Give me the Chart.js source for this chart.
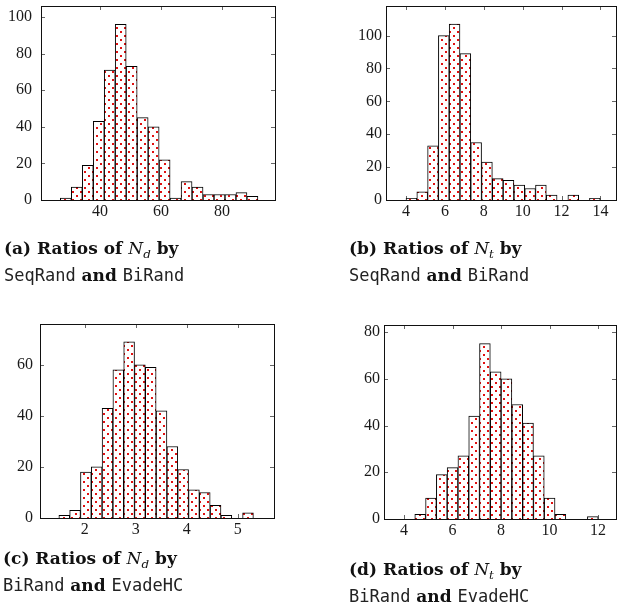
<!DOCTYPE html>
<html>
<head>
<meta charset="utf-8">
<script src="https://cdn.jsdelivr.net/npm/chart.js@4.4.1/dist/chart.umd.min.js"></script>
<style>
  html, body { margin: 0; padding: 0; background: #fff; overflow: hidden; }
  body { width: 617px; height: 609px; position: relative; }
  canvas { position: absolute; }
  .cap { position: absolute; font-family: "DejaVu Serif"; font-weight: bold; font-size: 17px;
         line-height: 27px; color: #111; white-space: nowrap; }
  .cap .m { font-family: "DejaVu Sans Mono"; font-weight: normal; color: #222; }
  .cap i { font-weight: normal; }
  .cap sub { font-size: 0.7em; vertical-align: -0.3em; line-height: 0; }
  .preload { position: absolute; left: -200px; top: -50px; font-family: "Liberation Serif"; font-size: 16px; }
</style>
</head>
<body>
<span class="preload">0123456789</span>
<canvas id="chA"></canvas>
<canvas id="chB"></canvas>
<canvas id="chC"></canvas>
<canvas id="chD"></canvas>

<div class="cap" style="left:4px;top:235px">(a) Ratios of <i>N<sub>d</sub></i> by<br><span class="m">SeqRand</span> and <span class="m">BiRand</span></div>
<div class="cap" style="left:349px;top:235px">(b) Ratios of <i>N<sub>t</sub></i> by<br><span class="m">SeqRand</span> and <span class="m">BiRand</span></div>
<div class="cap" style="left:3px;top:545px">(c) Ratios of <i>N<sub>d</sub></i> by<br><span class="m">BiRand</span> and <span class="m">EvadeHC</span></div>
<div class="cap" style="left:349px;top:556px">(d) Ratios of <i>N<sub>t</sub></i> by<br><span class="m">BiRand</span> and <span class="m">EvadeHC</span></div>

<script>
// histogram counts, one value per bin
const countsA = [1, 7, 19, 43, 71, 96, 73, 45, 40, 22, 1, 10, 7, 3, 3, 3, 4, 2];
const countsB = [1, 5, 33, 100, 107, 89, 35, 23, 13, 12, 9, 7, 9, 3, 0, 3, 0, 1];
const countsC = [1, 3, 18, 20, 43, 58, 69, 60, 59, 42, 28, 19, 11, 10, 5, 1, 0, 2];
const countsD = [2, 9, 19, 22, 27, 44, 75, 63, 60, 49, 41, 27, 9, 2, 0, 0, 1];

// first bin edge and bin width of each histogram
const binA = { start: 27.0, width: 3.6 };
const binB = { start: 4.0, width: 0.555 };
const binC = { start: 1.49, width: 0.212 };
const binD = { start: 4.44, width: 0.445 };

// tick labels
const xTicksA = [40, 60, 80];
const yTicksA = [0, 20, 40, 60, 80, 100];
const xTicksB = [4, 6, 8, 10, 12, 14];
const yTicksB = [0, 20, 40, 60, 80, 100];
const xTicksC = [2, 3, 4, 5];
const yTicksC = [0, 20, 40, 60];
const xTicksD = [4, 6, 8, 10, 12];
const yTicksD = [0, 20, 40, 60, 80];

// axis ranges
const rangeA = { xmin: 20.66, xmax: 97.4, ymax: 106 };
const rangeB = { xmin: 2.97, xmax: 14.8, ymax: 118 };
const rangeC = { xmin: 1.12, xmax: 5.71, ymax: 76 };
const rangeD = { xmin: 3.17, xmax: 12.74, ymax: 83 };

Chart.defaults.font.family = 'Liberation Serif';
Chart.defaults.font.size = 16;
Chart.defaults.color = '#1a1a1a';

// red dot fill
const tile = document.createElement('canvas');
tile.width = 8; tile.height = 8;
const tg = tile.getContext('2d');
tg.fillStyle = '#fff';
tg.fillRect(0, 0, 8, 8);
tg.fillStyle = '#e01010';
tg.fillRect(1, 1, 2, 2);
tg.fillRect(5, 5, 2, 2);
const dots = tg.createPattern(tile, 'repeat');

const PAD_L = 50, PAD_T = 24, PAD_R = 20, PAD_B = 40;

// frame with inward ticks on all four sides, like pgfplots
const framePlugin = {
  id: 'frame',
  beforeDatasetsDraw(chart) {
    const { ctx, chartArea: a, scales: { x, y } } = chart;
    ctx.save();
    ctx.strokeStyle = '#666';
    ctx.lineWidth = 1;
    ctx.beginPath();
    x.ticks.forEach(t => {
      const px = Math.round(x.getPixelForValue(t.value)) + 0.5;
      ctx.moveTo(px, a.top); ctx.lineTo(px, a.top + 4);
      ctx.moveTo(px, a.bottom); ctx.lineTo(px, a.bottom - 4);
    });
    y.ticks.forEach(t => {
      const py = Math.round(y.getPixelForValue(t.value)) + 0.5;
      ctx.moveTo(a.left, py); ctx.lineTo(a.left + 4, py);
      ctx.moveTo(a.right, py); ctx.lineTo(a.right - 4, py);
    });
    ctx.stroke();
    ctx.restore();
  },
  afterDatasetsDraw(chart) {
    const { ctx, chartArea: a } = chart;
    ctx.save();
    ctx.strokeStyle = '#111';
    ctx.lineWidth = 1;
    ctx.strokeRect(Math.round(a.left) + 0.5, Math.round(a.top) + 0.5,
                   Math.round(a.right - a.left), Math.round(a.bottom - a.top));
    ctx.restore();
  }
};

// frame: page coords of the plot box
const makeHist = (id, counts, bin, range, xTicks, yTicks, frame, labelGap) => {
  const el = document.getElementById(id);
  const w = frame.x1 - frame.x0 + PAD_L + PAD_R;
  const h = frame.y1 - frame.y0 + PAD_T + PAD_B;
  el.width = w; el.height = h;
  el.style.left = (frame.x0 - PAD_L) + 'px';
  el.style.top = (frame.y0 - PAD_T) + 'px';
  el.style.width = w + 'px'; el.style.height = h + 'px';

  const data = counts.map((c, i) => ({ x: bin.start + (i + 0.5) * bin.width, y: c }));

  return new Chart(el, {
    type: 'bar',
    data: {
      datasets: [{
        data,
        backgroundColor: dots,
        borderColor: '#000',
        borderWidth: 1,
        barPercentage: 1,
        categoryPercentage: 1
      }]
    },
    options: {
      responsive: false,
      animation: false,
      events: [],
      layout: { padding: { left: 0, top: PAD_T, right: PAD_R, bottom: 0 } },
      plugins: { legend: { display: false }, tooltip: { enabled: false } },
      scales: {
        x: {
          type: 'linear',
          offset: false,
          min: range.xmin, max: range.xmax,
          grid: { display: false, drawTicks: false, offset: false },
          border: { display: false },
          ticks: { padding: 2, maxRotation: 0 },
          afterBuildTicks: s => { s.ticks = xTicks.map(v => ({ value: v })); },
          afterFit: s => { s.height = PAD_B; }
        },
        y: {
          min: 0, max: range.ymax,
          grid: { display: false, drawTicks: false },
          border: { display: false },
          ticks: { padding: labelGap },
          afterBuildTicks: s => { s.ticks = yTicks.map(v => ({ value: v })); },
          afterFit: s => { s.width = PAD_L; }
        }
      }
    },
    plugins: [framePlugin]
  });
};

const drawAll = () => {
  makeHist('chA', countsA, binA, rangeA, xTicksA, yTicksA, { x0: 41, x1: 275, y0: 6, y1: 200 }, 9);
  makeHist('chB', countsB, binB, rangeB, xTicksB, yTicksB, { x0: 386, x1: 616, y0: 6, y1: 200 }, 4);
  makeHist('chC', countsC, binC, rangeC, xTicksC, yTicksC, { x0: 40, x1: 274, y0: 324, y1: 518 }, 7);
  makeHist('chD', countsD, binD, rangeD, xTicksD, yTicksD, { x0: 384, x1: 616, y0: 325, y1: 519 }, 4);
};

document.fonts.load("16px 'Liberation Serif'").then(drawAll, drawAll);
</script>
</body>
</html>
